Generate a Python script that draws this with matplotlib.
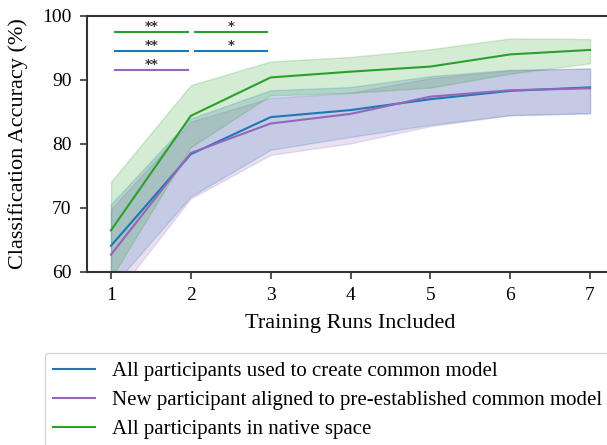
import matplotlib
matplotlib.use("Agg")
import matplotlib.pyplot as plt
import numpy as np

# training runs included
runs = [1, 2, 3, 4, 5, 6, 7]

# mean accuracy per condition
common_mean = [64.1, 78.4, 84.2, 85.3, 87.0, 88.3, 88.85]
new_mean = [62.7, 78.6, 83.2, 84.7, 87.4, 88.4, 88.7]
native_mean = [66.5, 84.4, 90.4, 91.3, 92.1, 94.0, 94.7]

# shaded band limits
common_lo = [57.5, 71.8, 79.1, 81.1, 83.0, 84.5, 84.8]
common_hi = [70.6, 84.0, 88.4, 88.9, 90.6, 91.6, 91.8]
new_lo = [55.5, 71.5, 78.3, 80.1, 82.8, 84.5, 84.8]
new_hi = [69.8, 83.5, 87.2, 88.0, 90.3, 91.5, 91.8]
native_lo = [59.0, 79.5, 87.6, 88.0, 88.8, 91.0, 92.6]
native_hi = [74.1, 89.2, 92.9, 93.6, 94.8, 96.5, 96.4]

labels = ["All participants used to create common model",
          "New participant aligned to pre-established common model",
          "All participants in native space"]
colors = ["#1f77b4", "#9467bd", "#2ca02c"]

# significance bars: (y level, x start, x end, stars, color index)
sig_y = [97.5, 97.5, 94.5, 94.5, 91.6]
sig_x0 = [1.05, 2.05, 1.05, 2.05, 1.05]
sig_x1 = [1.97, 2.95, 1.97, 2.95, 1.97]
sig_txt = ["**", "*", "**", "*", "**"]
sig_col = [2, 2, 0, 0, 1]

plt.rcParams['font.family'] = ['Liberation Serif', 'DejaVu Serif']

fig = plt.figure(figsize=(6.07, 4.45), dpi=100)
ax = fig.add_axes([87/607, 1-272/445, (614-87)/607, (272-16)/445])

means = [common_mean, new_mean, native_mean]
los = [common_lo, new_lo, native_lo]
his = [common_hi, new_hi, native_hi]
for m, lo, hi, c, lab in zip(means, los, his, colors, labels):
    ax.fill_between(runs, lo, hi, color=c, alpha=0.2, linewidth=1)
    ax.plot(runs, m, color=c, linewidth=1.5, label=lab)

for y, x0, x1, t, ci in zip(sig_y, sig_x0, sig_x1, sig_txt, sig_col):
    ax.plot([x0, x1], [y, y], color=colors[ci], linewidth=1.5)
    ax.text((x0 + x1) / 2, y - 0.15, t, ha='center', va='bottom',
            fontsize=9.5, color='#333333', family='DejaVu Sans',
            fontweight='bold')

ax.set_xlim(0.7, 7.3)
ax.set_ylim(60, 100)
ax.set_xticks(runs)
ax.set_yticks([60, 70, 80, 90, 100])
ax.tick_params(labelsize=14, length=5, width=1.2, color='#333333', pad=6)
for s in ax.spines.values():
    s.set_color('#333333')
    s.set_linewidth(1.5)
ax.set_xlabel("Training Runs Included", fontsize=16, labelpad=7)
ax.set_ylabel("Classification Accuracy (%)", fontsize=16, labelpad=10)

fig.legend(loc='upper left', bbox_to_anchor=(45/607, 1-353/445),
           fontsize=15, frameon=True, fancybox=True, edgecolor='#cccccc',
           labelspacing=0.45, handlelength=2.0, handletextpad=0.8,
           borderaxespad=0, borderpad=0.4)

fig.savefig("out.png", dpi=100)
